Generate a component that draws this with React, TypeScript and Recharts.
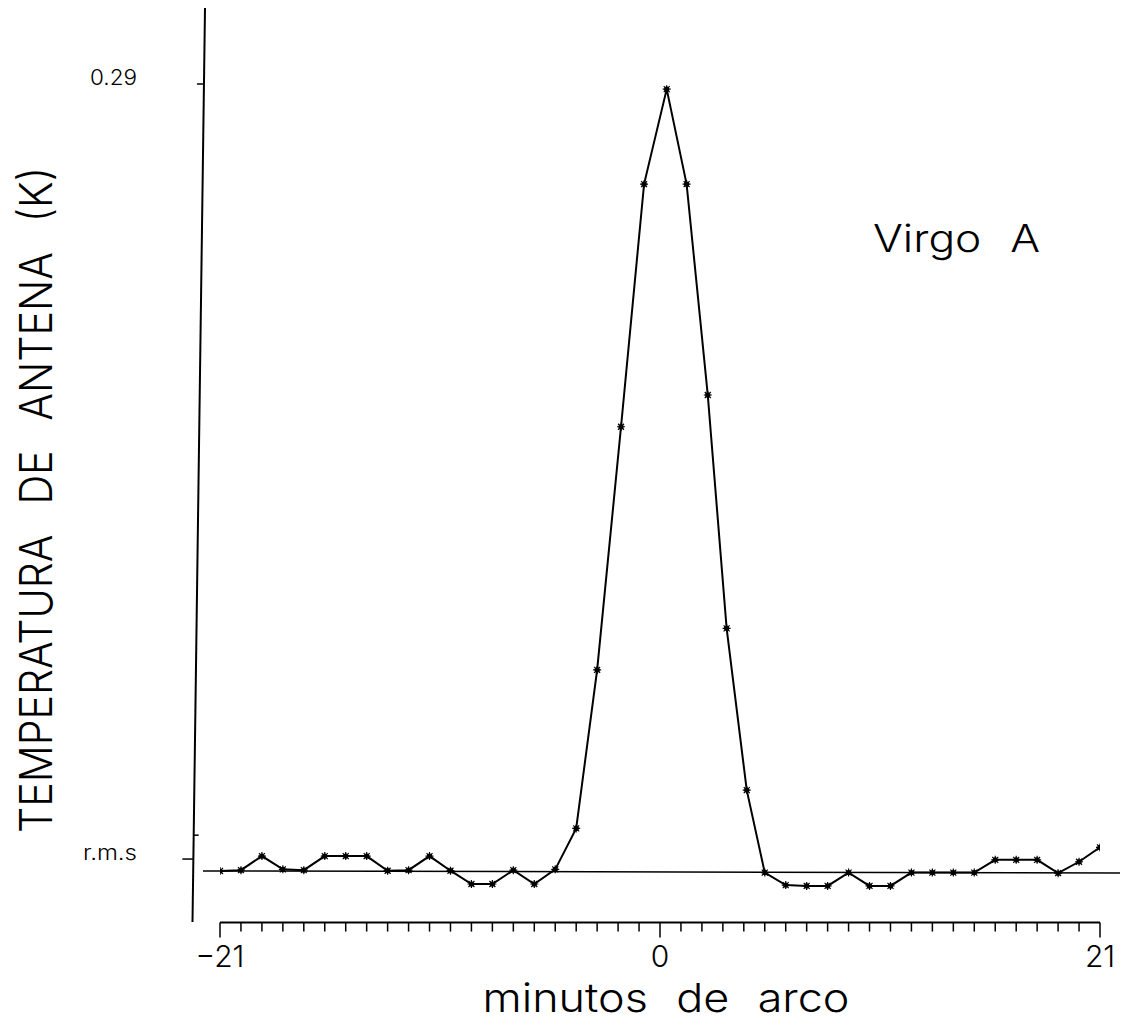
import React from "react";
import { LineChart, Line, XAxis, YAxis, ReferenceLine, Customized } from "recharts";

// offset in arc minutes
const offsets = [
  -21, -20, -19, -18, -17, -16, -15, -14, -13, -12, -11, -10, -9, -8, -7, -6, -5, -4, -3,
  -1.86, -0.76, 0.32, 1.27, 2.28, 3.18, 4.14,
  5, 6, 7, 8, 9, 10, 11, 12, 13, 14, 15, 16, 17, 18, 19, 20, 21,
];
// antenna temperature (K)
const temperatures = [
  0, 0.0003, 0.0055, 0.0006, 0.0003, 0.0055, 0.0055, 0.0055, 0.0001, 0.0003, 0.0055, 0.0001,
  -0.0048, -0.0048, 0.0003, -0.0048, 0.0006, 0.0157, 0.0741,
  0.1637, 0.2531, 0.2881, 0.2531, 0.1754, 0.0894, 0.0298,
  -0.0006, -0.0052, -0.0055, -0.0055, -0.0006, -0.0055, -0.0055, -0.0006, -0.0006, -0.0006,
  -0.0006, 0.0041, 0.0041, 0.0041, -0.0008, 0.0034, 0.0087,
];

const xTicks = [
  -21, -20, -19, -18, -17, -16, -15, -14, -13, -12, -11, -10, -9, -8, -7, -6, -5, -4, -3, -2, -1,
  0, 1, 2, 3, 4, 5, 6, 7, 8, 9, 10, 11, 12, 13, 14, 15, 16, 17, 18, 19, 20, 21,
];
const xLabelTicks = [-21, 0, 21];
const xLabelTexts = ["\u221221", "0", "21"];

const yTicks = [0.0044, 0.0132, 0.29];
const yTickTexts = ["r.m.s", "", "0.29"];

const baselineLevels = [0, -0.0007];
const sourceName = "Virgo A";
const xTitle = "minutos de arco";
const yTitle = "TEMPERATURA DE ANTENA (K)";

const data = offsets.map((x, i) => ({ x, t: temperatures[i] }));

const FONT = "Inter, 'Liberation Sans', Arial, sans-serif";
const W = 300;

const axisXAt = (cy: number) => 197 - (12.5 * (cy + 3)) / 917;

const XTick = (props: any) => {
  const { x, y, payload } = props;
  const idx = xLabelTicks.indexOf(payload.value);
  const labeled = idx >= 0;
  return (
    <g>
      <line x1={x} x2={x} y1={y} y2={y + (labeled ? 15 : 9)} stroke="#000" strokeWidth={1.5} />
      {labeled && (
        <text
          x={x}
          y={y + 44}
          textAnchor="middle"
          fontSize={30}
          fontWeight={W}
          fontFamily={FONT}
          fill="#000"
        >
          {xLabelTexts[idx]}
        </text>
      )}
    </g>
  );
};

const YTick = (props: any) => {
  const { y, payload } = props;
  const idx = yTicks.indexOf(payload.value);
  const ax = axisXAt(y);
  const label = yTickTexts[idx];
  const toRight = label === "";
  const len = label === "r.m.s" ? 11 : 7;
  return (
    <g>
      <line
        x1={ax}
        x2={toRight ? ax + 5 : ax - len}
        y1={y}
        y2={y}
        stroke="#000"
        strokeWidth={1.5}
      />
      {label && (
        <text
          x={129}
          y={y + 1}
          textAnchor="end"
          fontSize={21}
          fontWeight={W}
          fontFamily={FONT}
          fill="#000"
          textLength={label === "0.29" ? 47 : 54}
          lengthAdjust="spacingAndGlyphs"
        >
          {label}
        </text>
      )}
    </g>
  );
};

const Marker = (props: any) => {
  const { cx, cy } = props;
  if (cx == null || cy == null) return null;
  return (
    <g>
      <circle cx={cx} cy={cy} r={2.6} fill="#000" />
      <path
        d={`M${cx - 4},${cy}h8M${cx},${cy - 4}v8M${cx - 3},${cy - 3}l6,6M${cx - 3},${cy + 3}l6,-6`}
        stroke="#000"
        strokeWidth={1.2}
      />
    </g>
  );
};

const Titles = () => (
  <g fontFamily={FONT} fill="#000" fontWeight={W}>
    <text
      transform="translate(44,492) rotate(-90)"
      textAnchor="middle"
      fontSize={45}
      wordSpacing={20}
      textLength={666}
      lengthAdjust="spacingAndGlyphs"
    >
      {yTitle}
    </text>
    <text
      x={658}
      y={1004}
      textAnchor="middle"
      fontSize={40}
      wordSpacing={14}
      textLength={367}
      lengthAdjust="spacingAndGlyphs"
    >
      {xTitle}
    </text>
    <text
      x={865}
      y={244}
      fontSize={38}
      wordSpacing={14}
      textLength={167}
      lengthAdjust="spacingAndGlyphs"
    >
      {sourceName}
    </text>
  </g>
);

export default function App() {
  return (
    <div style={{ width: 1114, height: 1013, marginBottom: -8 }}>
      <LineChart
        width={1114}
        height={1013}
        data={data}
        margin={{ top: 0, right: 22, bottom: 0, left: 0 }}
      >
        <XAxis
          type="number"
          dataKey="x"
          domain={[-21, 21]}
          ticks={xTicks}
          interval={0}
          height={98.45}
          axisLine={{ stroke: "#000", strokeWidth: 2 }}
          tickLine={false}
          tickSize={0}
          tickMargin={0}
          tick={<XTick />}
          allowDataOverflow
        />
        <YAxis
          type="number"
          domain={[-0.019, 0.318]}
          ticks={yTicks}
          interval={0}
          width={212}
          axisLine={false}
          tickLine={false}
          tickSize={0}
          tickMargin={0}
          tick={<YTick />}
          allowDataOverflow
        />
        <ReferenceLine
          segment={[
            { x: -22.3125, y: -0.0188 },
            { x: -21.716, y: 0.318 },
          ]}
          stroke="#000"
          strokeWidth={2}
          ifOverflow="visible"
        />
        <ReferenceLine
          segment={[
            { x: -21.81, y: baselineLevels[0] },
            { x: 21.955, y: baselineLevels[1] },
          ]}
          stroke="#000"
          strokeWidth={1.5}
          ifOverflow="visible"
        />
        <Line
          dataKey="t"
          type="linear"
          stroke="#000"
          strokeWidth={2}
          dot={<Marker />}
          activeDot={false}
          isAnimationActive={false}
        />
        <Customized component={Titles} />
      </LineChart>
    </div>
  );
}
